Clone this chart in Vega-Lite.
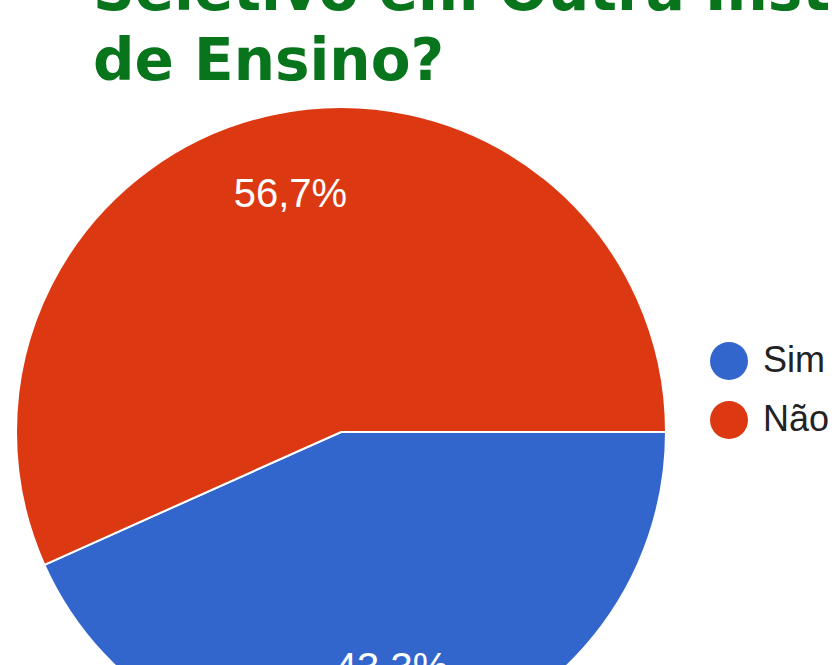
{
  "$schema": "https://vega.github.io/schema/vega-lite/v6.json",
  "autosize": "none",
  "padding": {"left": 0, "top": 0, "right": 150, "bottom": 0},
  "width": 682,
  "height": 864,
  "background": "white",
  "title": {
    "text": ["Seletivo em Outra Instituição", "de Ensino?"],
    "anchor": "start",
    "orient": "top",
    "font": "DejaVu Sans",
    "fontWeight": "bold",
    "fontSize": 58,
    "lineHeight": 70,
    "color": "#08751c",
    "dx": 93,
    "offset": -138,
    "baseline": "alphabetic"
  },
  "data": {
    "values": [
      {"resposta": "Sim", "pct": 43.3, "label": "43,3%"},
      {"resposta": "Não", "pct": 56.7, "label": "56,7%"}
    ]
  },
  "encoding": {
    "theta": {"field": "pct", "type": "quantitative", "stack": true, "scale": {"range": [1.5707963, 7.8539816]}},
    "order": {"field": "order", "type": "quantitative"}
  },
  "layer": [
    {
      "mark": {"type": "arc", "outerRadius": 325, "stroke": "white", "strokeWidth": 2},
      "encoding": {
        "color": {
          "field": "resposta",
          "type": "nominal",
          "sort": ["Sim", "Não"],
          "scale": {"domain": ["Sim", "Não"], "range": ["#3366cc", "#dc3912"]},
          "legend": {
            "title": null,
            "orient": "none",
            "legendX": 710,
            "legendY": 342,
            "symbolType": "circle",
            "symbolSize": 1444,
            "symbolStrokeWidth": 0,
            "labelFont": "Liberation Sans",
            "labelFontSize": 36,
            "labelColor": "#222222",
            "labelOffset": 15,
            "rowPadding": 21,
            "labelLimit": 300
          }
        }
      }
    },
    {
      "mark": {"type": "text", "radius": 242, "font": "Liberation Sans", "fontSize": 40, "color": "white"},
      "encoding": {"text": {"field": "label"}}
    }
  ]
}
